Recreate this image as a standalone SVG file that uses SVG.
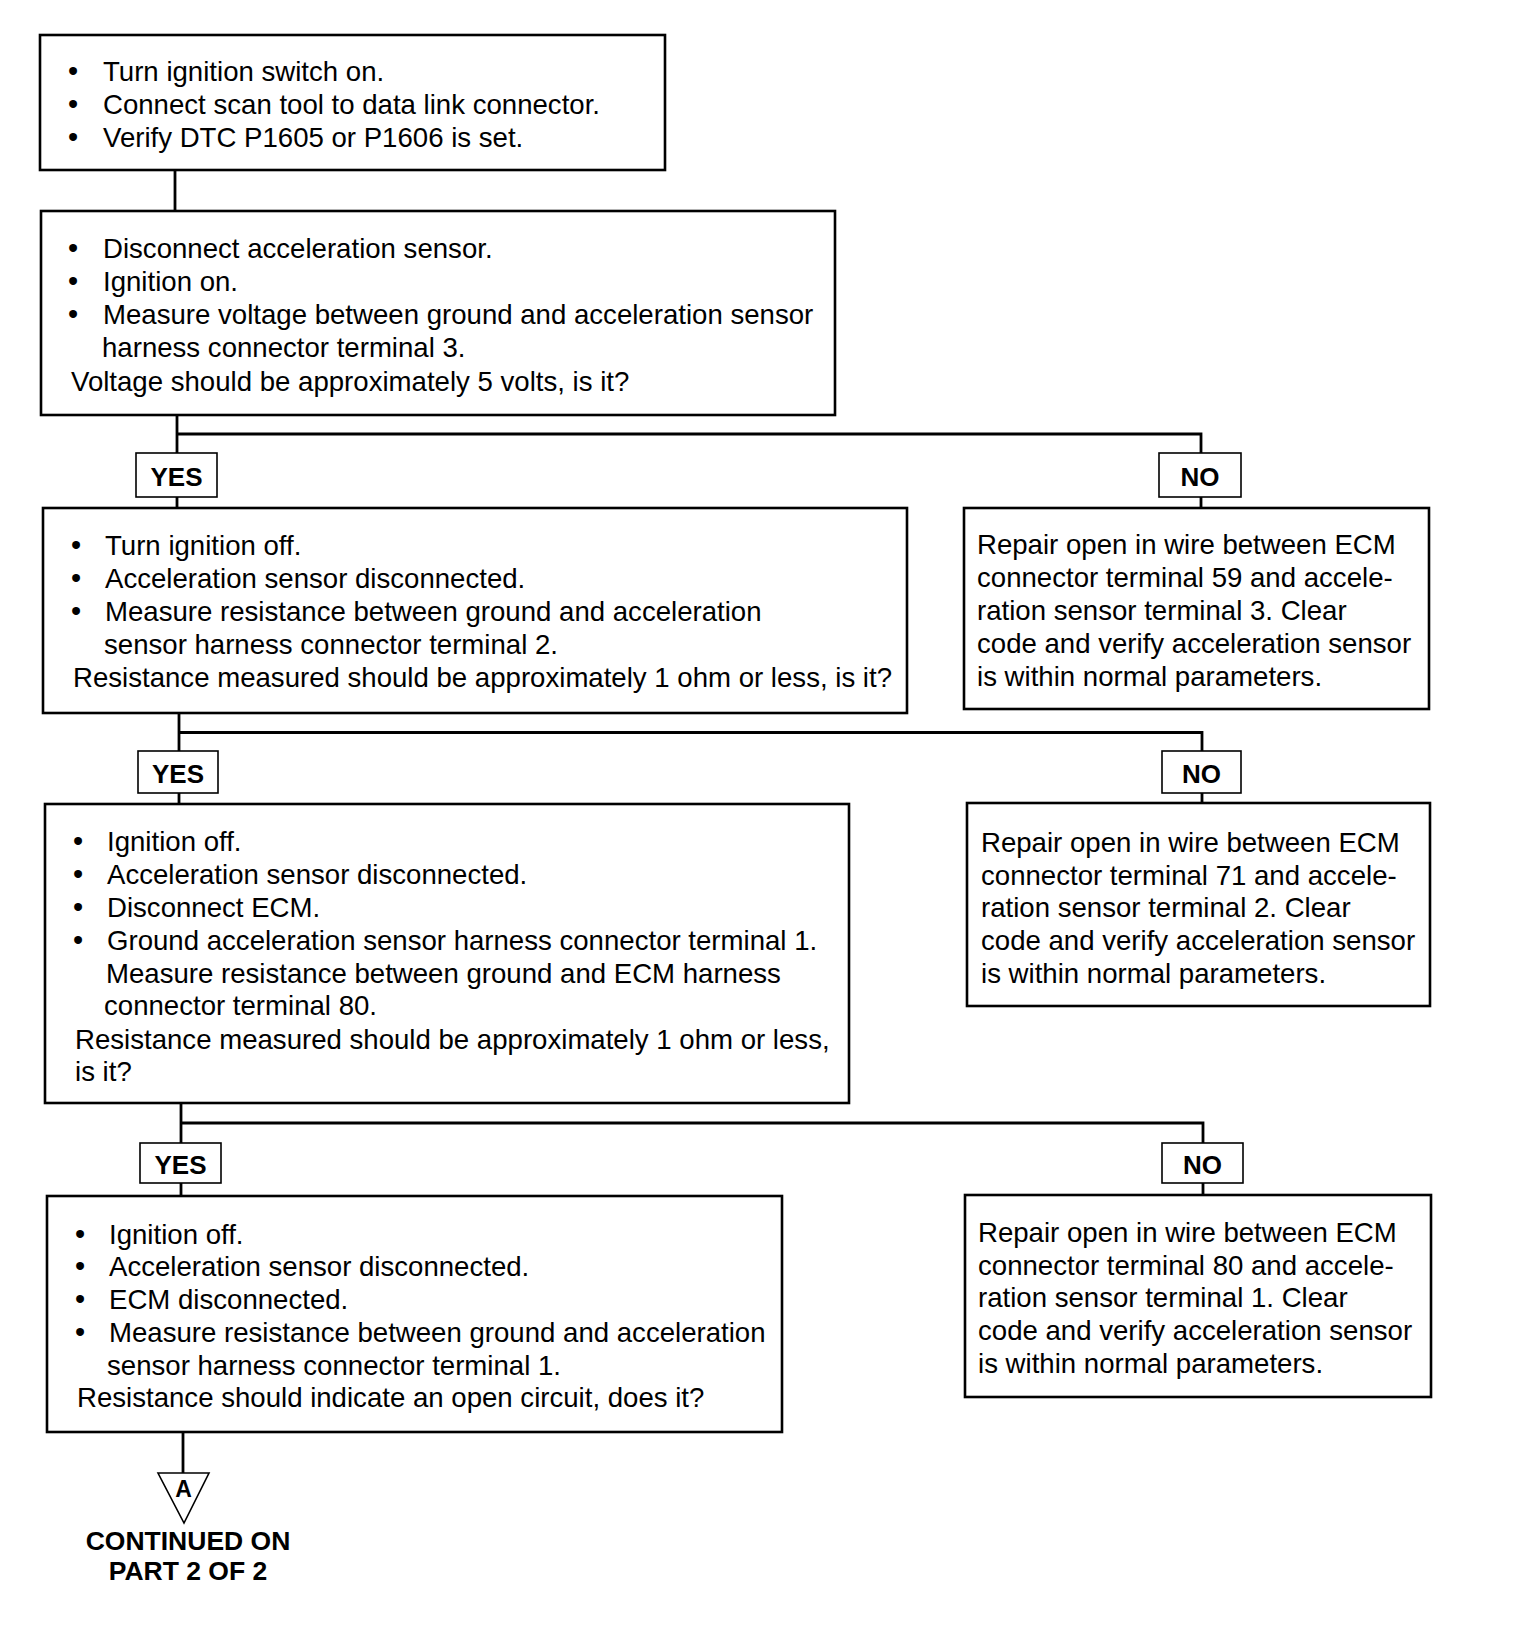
<svg xmlns="http://www.w3.org/2000/svg" width="1520" height="1630" viewBox="0 0 1520 1630">
<style>
.box{fill:#fff;stroke:#000;stroke-width:2.6}
.lbl{fill:#fff;stroke:#000;stroke-width:1.6}
.con{fill:none;stroke:#000;stroke-width:2.8}
text{font-family:"Liberation Sans",Arial,Helvetica,sans-serif;font-size:27.6px;fill:#000}
.b{text-anchor:middle;font-size:29px}
.bold{font-weight:bold;font-size:26px;text-anchor:middle}
.cont{font-weight:bold;font-size:26.5px;text-anchor:middle}
</style>
<rect width="1520" height="1630" fill="#fff"/>
<g id="connectors">
<line class="con" x1="175" y1="170" x2="175" y2="211"/>
<polyline class="con" points="177,415 177,508"/>
<polyline class="con" points="177,434 1201,434 1201,508"/>
<polyline class="con" points="179,713 179,804"/>
<polyline class="con" points="179,732.5 1202,732.5 1202,803"/>
<polyline class="con" points="181,1103 181,1196"/>
<polyline class="con" points="181,1123 1203,1123 1203,1195"/>
<polyline class="con" points="183,1432 183,1473"/>
</g>
<g id="n1">
<rect class="box" x="40" y="35" width="625" height="135"/>
<text class="b" x="73" y="81">•</text><text x="103" y="81">Turn ignition switch on.</text>
<text class="b" x="73" y="114">•</text><text x="103" y="114">Connect scan tool to data link connector.</text>
<text class="b" x="73" y="147">•</text><text x="103" y="147">Verify DTC P1605 or P1606 is set.</text>
</g>
<g id="n2">
<rect class="box" x="41" y="211" width="794" height="204"/>
<text class="b" x="73" y="258">•</text><text x="103" y="258">Disconnect acceleration sensor.</text>
<text class="b" x="73" y="291">•</text><text x="103" y="291">Ignition on.</text>
<text class="b" x="73" y="324">•</text><text x="103" y="324">Measure voltage between ground and acceleration sensor</text>
<text x="102" y="357">harness connector terminal 3.</text>
<text x="71" y="391">Voltage should be approximately 5 volts, is it?</text>
</g>
<g id="yes1"><rect class="lbl" x="136" y="453" width="81" height="44"/><text class="bold" x="176.5" y="486">YES</text></g>
<g id="no1"><rect class="lbl" x="1159" y="453" width="82" height="44"/><text class="bold" x="1200" y="486">NO</text></g>
<g id="n3">
<rect class="box" x="43" y="508" width="864" height="205"/>
<text class="b" x="76" y="555">•</text><text x="105" y="555">Turn ignition off.</text>
<text class="b" x="76" y="588">•</text><text x="105" y="588">Acceleration sensor disconnected.</text>
<text class="b" x="76" y="621">•</text><text x="105" y="621">Measure resistance between ground and acceleration</text>
<text x="104" y="654">sensor harness connector terminal 2.</text>
<text x="73" y="687">Resistance measured should be approximately 1 ohm or less, is it?</text>
</g>
<g id="r1">
<rect class="box" x="964" y="508" width="465" height="201"/>
<text x="977" y="554">Repair open in wire between ECM</text>
<text x="977" y="587">connector terminal 59 and accele-</text>
<text x="977" y="620">ration sensor terminal 3. Clear</text>
<text x="977" y="653">code and verify acceleration sensor</text>
<text x="977" y="686">is within normal parameters.</text>
</g>
<g id="yes2"><rect class="lbl" x="138" y="751" width="80" height="42"/><text class="bold" x="178" y="783">YES</text></g>
<g id="no2"><rect class="lbl" x="1162" y="751" width="79" height="42"/><text class="bold" x="1201.5" y="783">NO</text></g>
<g id="n4">
<rect class="box" x="45" y="804" width="804" height="299"/>
<text class="b" x="78" y="851">•</text><text x="107" y="851">Ignition off.</text>
<text class="b" x="78" y="884">•</text><text x="107" y="884">Acceleration sensor disconnected.</text>
<text class="b" x="78" y="917">•</text><text x="107" y="917">Disconnect ECM.</text>
<text class="b" x="78" y="950">•</text><text x="107" y="950">Ground acceleration sensor harness connector terminal 1.</text>
<text x="106" y="983">Measure resistance between ground and ECM harness</text>
<text x="104" y="1015">connector terminal 80.</text>
<text x="75" y="1049">Resistance measured should be approximately 1 ohm or less,</text>
<text x="75" y="1081">is it?</text>
</g>
<g id="r2">
<rect class="box" x="967" y="803" width="463" height="203"/>
<text x="981" y="852">Repair open in wire between ECM</text>
<text x="981" y="885">connector terminal 71 and accele-</text>
<text x="981" y="917">ration sensor terminal 2. Clear</text>
<text x="981" y="950">code and verify acceleration sensor</text>
<text x="981" y="983">is within normal parameters.</text>
</g>
<g id="yes3"><rect class="lbl" x="140" y="1143" width="81" height="40"/><text class="bold" x="180.5" y="1174">YES</text></g>
<g id="no3"><rect class="lbl" x="1162" y="1143" width="81" height="40"/><text class="bold" x="1202.5" y="1174">NO</text></g>
<g id="n5">
<rect class="box" x="47" y="1196" width="735" height="236"/>
<text class="b" x="80" y="1244">•</text><text x="109" y="1244">Ignition off.</text>
<text class="b" x="80" y="1276">•</text><text x="109" y="1276">Acceleration sensor disconnected.</text>
<text class="b" x="80" y="1309">•</text><text x="109" y="1309">ECM disconnected.</text>
<text class="b" x="80" y="1342">•</text><text x="109" y="1342">Measure resistance between ground and acceleration</text>
<text x="107" y="1375">sensor harness connector terminal 1.</text>
<text x="77" y="1407">Resistance should indicate an open circuit, does it?</text>
</g>
<g id="r3">
<rect class="box" x="965" y="1195" width="466" height="202"/>
<text x="978" y="1242">Repair open in wire between ECM</text>
<text x="978" y="1275">connector terminal 80 and accele-</text>
<text x="978" y="1307">ration sensor terminal 1. Clear</text>
<text x="978" y="1340">code and verify acceleration sensor</text>
<text x="978" y="1373">is within normal parameters.</text>
</g>
<g id="offpage">
<polygon points="158,1473 209,1473 184,1523" fill="#fff" stroke="#000" stroke-width="1.6"/>
<text class="bold" x="183.5" y="1497" style="font-size:23px">A</text>
<text class="cont" x="188" y="1550">CONTINUED ON</text>
<text class="cont" x="188" y="1580">PART 2 OF 2</text>
</g>
</svg>
